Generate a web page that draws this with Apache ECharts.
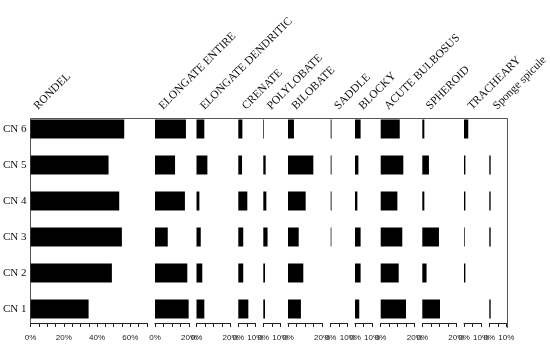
<!DOCTYPE html>
<html>
<head>
<meta charset="utf-8">
<script src="https://cdn.jsdelivr.net/npm/echarts@6/dist/echarts.min.js"></script>
<style>html,body{margin:0;padding:0;background:#fff;}#c{width:550px;height:347px;}</style>
</head>
<body>
<div id="c"></div>
<script>
const categories = ['CN 1', 'CN 2', 'CN 3', 'CN 4', 'CN 5', 'CN 6'];
const types = ['RONDEL', 'ELONGATE ENTIRE', 'ELONGATE DENDRITIC', 'CRENATE', 'POLYLOBATE', 'BILOBATE',
  'SADDLE', 'BLOCKY', 'ACUTE BULBOSUS', 'SPHEROID', 'TRACHEARY', 'Sponge spicule'];
const axisMax = [70, 20, 20, 10, 10, 20, 10, 10, 20, 20, 10, 10];
const tickLabels = [[0, 20, 40, 60], [0, 20], [0, 20], [0, 10], [0, 10], [0, 20], [0, 10], [0, 10], [0, 20], [0, 20], [0, 10], [0, 10]];

// values per type, ordered CN 1 .. CN 6 (percent)
const rondel            = [34.9, 48.9, 54.9, 53.3, 46.9, 56.3];
const elongateEntire    = [19.8, 19.0, 7.5, 17.6, 11.8, 18.2];
const elongateDendritic = [4.6, 3.4, 2.5, 1.7, 6.4, 4.6];
const crenate           = [5.9, 2.9, 2.9, 5.3, 2.2, 2.4];
const polylobate        = [1.0, 1.0, 2.5, 1.8, 1.4, 0.4];
const bilobate          = [7.6, 9.0, 6.3, 10.4, 14.9, 3.5];
const saddle            = [0, 0, 0.4, 0.5, 0.5, 0.5];
const blocky            = [2.5, 3.3, 3.3, 1.4, 2.0, 3.3];
const acuteBulbosus     = [14.9, 10.6, 12.7, 9.8, 13.3, 11.2];
const spheroid          = [10.4, 2.5, 9.8, 1.2, 3.9, 1.2];
const tracheary         = [0, 0.8, 0.4, 0.8, 0.8, 2.5];
const spongeSpicule     = [0.8, 0, 0.8, 0.8, 0.8, 0];

const seriesValues = [rondel, elongateEntire, elongateDendritic, crenate, polylobate, bilobate,
  saddle, blocky, acuteBulbosus, spheroid, tracheary, spongeSpicule];

// layout
const gridLefts = [30, 155, 196.5, 238.3, 263.3, 288, 330.7, 355, 380.7, 422.3, 464, 489.3];
const pxPerPct = 1.7;
const gridTop = 111, gridHeight = 216;

const grids = [], xAxes = [], yAxes = [], series = [], graphics = [];
types.forEach((t, i) => {
  const w = i === 0 ? 117 : axisMax[i] * pxPerPct;
  grids.push({ left: gridLefts[i], top: gridTop, width: w, height: gridHeight, containLabel: false });
  const labs = tickLabels[i];
  xAxes.push({
    gridIndex: i, type: 'value', min: 0, max: axisMax[i], interval: 5, position: 'bottom', offset: -4,
    splitLine: { show: false },
    axisLine: { show: true, onZero: false, lineStyle: { color: '#222', width: 1 } },
    axisTick: { show: true, length: 4, lineStyle: { color: '#222', width: 1 } },
    axisLabel: {
      show: true, margin: 11, fontSize: 8, fontFamily: 'Liberation Sans', color: '#222',
      showMinLabel: true, showMaxLabel: true,
      formatter: v => labs.indexOf(v) >= 0 ? v + '%' : ''
    }
  });
  yAxes.push({
    gridIndex: i, type: 'category', data: categories,
    axisLine: { show: false }, axisTick: { show: false },
    axisLabel: i === 0 ? { show: true, margin: 4, fontSize: 11, fontFamily: 'Liberation Serif', color: '#111' } : { show: false }
  });
  series.push({
    type: 'bar', xAxisIndex: i, yAxisIndex: i, data: seriesValues[i], barWidth: 19,
    itemStyle: { color: '#000' }, silent: true, animation: false
  });
  graphics.push({
    type: 'text', x: gridLefts[i] + 10, y: 112, rotation: Math.PI / 4,
    style: { text: t, font: '11.5px "Liberation Serif"', fill: '#111', textAlign: 'left', textVerticalAlign: 'bottom' }
  });
});

graphics.push({
  type: 'polyline',
  shape: { points: [[30.5, 323], [30.5, 118.5], [507.5, 118.5], [507.5, 328]] },
  style: { stroke: '#555', lineWidth: 1, fill: null }
});

const chart = echarts.init(document.getElementById('c'), null, { renderer: 'canvas', width: 550, height: 347 });
chart.setOption({
  animation: false,
  backgroundColor: '#fff',
  grid: grids, xAxis: xAxes, yAxis: yAxes, series: series, graphic: graphics
});
</script>
</body>
</html>
